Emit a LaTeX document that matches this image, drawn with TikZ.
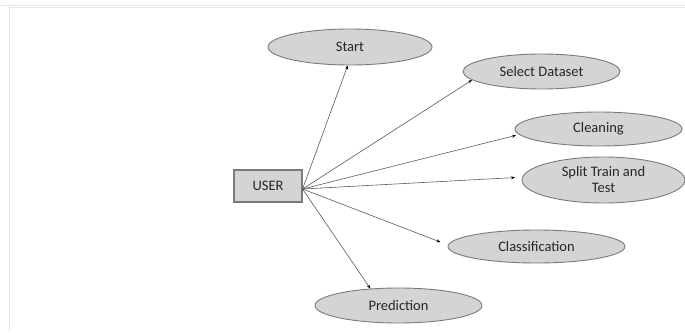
\documentclass[tikz,border=0pt]{standalone}
\usepackage{fontspec}
\usepackage{xcolor}
\usepackage{tikz}
\usetikzlibrary{shapes.geometric,arrows.meta}
\setmainfont{Carlito}
\definecolor{boxfill}{HTML}{D4D4D4}
\definecolor{boxline}{HTML}{7A7A7A}
\definecolor{txt}{HTML}{262626}

\begin{document}
\begin{tikzpicture}[x=1pt, y=-1pt, font=\fontsize{14.5}{16}\selectfont,
	main/.style = {draw=boxline, fill=boxfill, ellipse, line width=0.9pt, inner sep=0pt, minimum width=165pt, minimum height=35pt, text=txt, align=center},
	actor/.style = {draw=boxline, fill=boxfill, rectangle, line width=1.1pt, minimum width=68pt, minimum height=32pt, text=txt},
	link/.style = {draw=black!65, line width=0.6pt, -{Stealth[length=4pt, width=3pt, black]}}]
	\useasboundingbox (0,0) rectangle (685,332);
	\draw[gray!20, line width=0.8pt] (0,5.5) -- (685,5.5);
	\draw[gray!20, line width=0.8pt] (9.5,332) -- (9.5,7.5) -- (685,7.5);
	\node[actor] (user) at (268,186) {USER};
	\node[main, minimum width=164pt, minimum height=36pt] (start) at (350,47) {Start};
	\node[main, minimum width=157pt] (select) at (541.5,71.5) {Select Dataset};
	\node[main, minimum width=167pt, minimum height=34pt] (clean) at (598.5,129) {Cleaning};
	\node[main, minimum width=163pt, minimum height=46pt] (split) at (603.5,180) {Split Train and\\Test};
	\node[main, minimum width=177pt, minimum height=33pt] (class) at (536.5,246.5) {Classification};
	\node[main, minimum width=167pt] (pred) at (398.5,305.5) {Prediction};
	\coordinate (hub) at ([yshift=-3pt]user.east);
	\draw[link] (hub) -- (start.263);
	\draw[link] (hub) -- (select.187);
	\draw[link, shorten >=3pt] (hub) -- (clean.184);
	\draw[link, shorten >=7pt] (hub) -- (split.178);
	\draw[link, shorten >=8pt] (hub) -- (class.179);
	\draw[link] (hub) -- (pred.149);
\end{tikzpicture}
\end{document}
